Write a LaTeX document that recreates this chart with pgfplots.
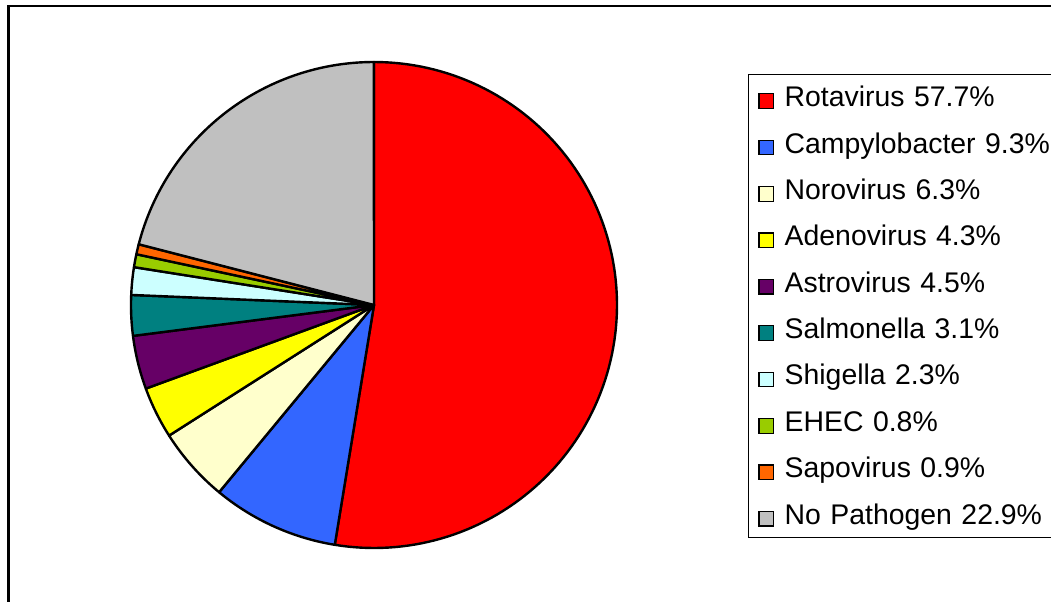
\documentclass[border=0pt]{standalone}
\usepackage{fontspec}
\setmainfont{Liberation Sans}
\usepackage{pgfplots}
\usepackage{pgfplotstable}
\pgfplotsset{compat=1.18}

\definecolor{pieRota}{HTML}{FF0000}
\definecolor{pieCampy}{HTML}{3366FF}
\definecolor{pieNoro}{HTML}{FFFFCC}
\definecolor{pieAdeno}{HTML}{FFFF00}
\definecolor{pieAstro}{HTML}{660066}
\definecolor{pieSalmo}{HTML}{008080}
\definecolor{pieShig}{HTML}{CCFFFF}
\definecolor{pieEhec}{HTML}{99CC00}
\definecolor{pieSapo}{HTML}{FF6600}
\definecolor{pieNone}{HTML}{C0C0C0}

% share of the pie (percent of the circle), clockwise from 12 o'clock
\pgfplotstableread{
share color
52.58 pieRota
8.42  pieCampy
4.97  pieNoro
3.44  pieAdeno
3.56  pieAstro
2.69  pieSalmo
1.83  pieShig
0.86  pieEhec
0.67  pieSapo
20.97 pieNone
}\piedata

\begin{document}
\begin{tikzpicture}
\path[use as bounding box] (0,0) rectangle (525.5pt,300.5pt);
% chart area frame (right and bottom edges lie outside the picture)
\draw[line width=1.1pt] (4.25pt,-20pt) rectangle (560pt,297.35pt);

\begin{axis}[
  at={(187pt,148pt)}, anchor=center,
  scale only axis,
  width=243pt, height=243pt,
  xmin=-1, xmax=1, ymin=-1, ymax=1,
  hide axis,
  clip=false,
  legend entries={Rotavirus 57.7\%, Campylobacter 9.3\%, Norovirus 6.3\%,
    Adenovirus 4.3\%, Astrovirus 4.5\%, Salmonella 3.1\%, Shigella 2.3\%,
    EHEC 0.8\%, Sapovirus 0.9\%, No Pathogen 22.9\%},
  legend cell align=left,
  legend image code/.code={
    \draw[#1, draw=black, line width=0.6pt, line join=miter] (0pt,-5.6pt) rectangle (7.3pt,1.7pt);},
  legend style={
    at={(1.2689,0.9747)}, anchor=north west,
    draw=black, line width=0.5pt,
    font=\fontsize{14.2pt}{16pt}\selectfont,
    inner xsep=5.15pt, inner ysep=4.5pt,
    row sep=9.8pt, column sep=5.2pt,
    nodes={inner xsep=0pt, inner ysep=0pt, text height=11.4pt, text depth=2pt},
    /tikz/every even column/.append style={text width=150pt, align=left},
  },
]
\def\angA{90}
\pgfplotsforeachungrouped \i in {0,...,9}{%
  \pgfplotstablegetelem{\i}{share}\of\piedata
  \pgfmathsetmacro\angB{\angA-3.6*\pgfplotsretval}%
  \pgfplotstablegetelem{\i}{color}\of\piedata
  \edef\doslice{\noexpand\addplot[fill=\pgfplotsretval, draw=black,
    line width=1.2pt, line join=round, domain=\angB:\angA, samples=120]
    ({cos(x)},{sin(x)}) -- (axis cs:0,0) -- cycle;}%
  \doslice
  \global\let\angA\angB
}
\end{axis}
\end{tikzpicture}
\end{document}
